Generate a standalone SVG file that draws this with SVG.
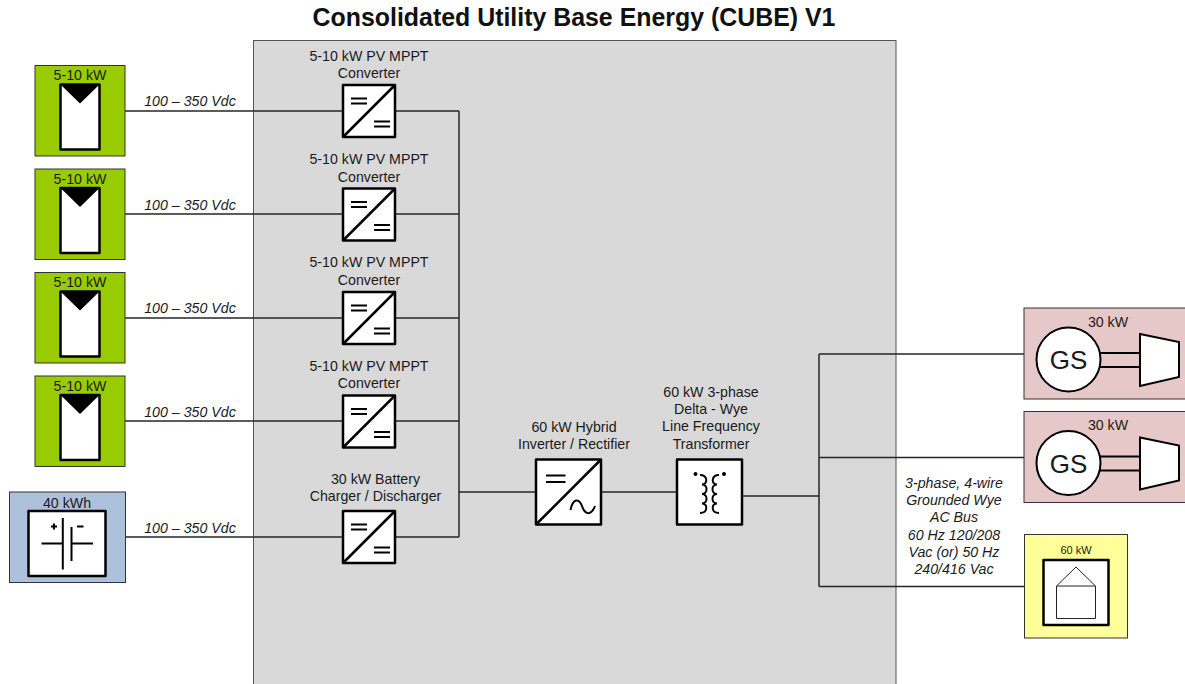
<svg xmlns="http://www.w3.org/2000/svg" width="1185" height="684" viewBox="0 0 1185 684">
<style>
text{font-family:"Liberation Sans",Arial,sans-serif;font-size:14.200px;fill:#1a1a1a;text-anchor:middle}
.t{font-size:24.900px;font-weight:bold;fill:#111}
.i{font-style:italic}
.g{font-size:26px}
.m{font-size:11px}
.w{fill:none;stroke:#262626;stroke-width:1.500}
.b{stroke:#333;stroke-width:1}
.k{fill:#fff;stroke:#000;stroke-width:2.500;stroke-linejoin:round}
.l{fill:none;stroke:#000;stroke-width:2.500}
.s{fill:none;stroke:#000;stroke-width:2}
</style>
<defs>
<g id="pv">
<rect class="b" x="35" y="65.500" width="90" height="90.500" fill="#99cc00"/>
<rect class="k" x="60.500" y="84.500" width="39" height="65"/>
<path d="M60.500 84.500H99.500L80 103.500Z" fill="#000"/>
<text x="80" y="80">5-10 kW</text>
</g>
<g id="conv">
<rect class="k" x="343" y="85" width="52" height="52"/>
<path class="l" d="M343 137L395 85"/>
<path class="s" d="M351 98.500H367M351 103.500H367M374 121.500H390M374 126.500H390"/>
</g>
<g id="gen">
<path class="s" d="M1100 353H1140M1100 367H1140"/>
<path class="s" d="M1140 334V386L1179 377V342Z" style="fill:#fff"/>
<circle class="s" cx="1068.500" cy="359.500" r="32" style="fill:#fff"/>
</g>
</defs>
<text class="t" x="574" y="26">Consolidated Utility Base Energy (CUBE) V1</text>
<rect id="cube" x="253.500" y="40.500" width="642.500" height="650" fill="#d9d9d9" stroke="#555" stroke-width="1"/>
<g id="connectors">
<path class="w" d="M125 111H343M395 111H459M125 214H343M395 214H459M125 318H343M395 318H459M125 421H343M395 421H459M125.500 537H343M395 537H459M459 111V537M459 492H536M601 492H677M742 496H819M819 354V586.500M819 354H1024M819 457.500H1024M819 586.500H1024"/>
</g>
<g id="labels">
<text class="i" x="190" y="106">100 – 350 Vdc</text>
<text class="i" x="190" y="210">100 – 350 Vdc</text>
<text class="i" x="190" y="313">100 – 350 Vdc</text>
<text class="i" x="190" y="417">100 – 350 Vdc</text>
<text class="i" x="190" y="533">100 – 350 Vdc</text>
</g>
<g id="pv1"><use href="#pv"/></g>
<g id="pv2"><use href="#pv" y="103.500"/></g>
<g id="pv3"><use href="#pv" y="207"/></g>
<g id="pv4"><use href="#pv" y="310.500"/></g>
<g id="battery">
<rect class="b" x="9.500" y="492" width="116" height="90.500" fill="#adc1dc"/>
<rect class="k" x="28.500" y="511" width="77" height="65"/>
<path class="s" d="M41.500 543.500H63M62.800 518V569.500M71.500 527V561M71.500 543.500H93"/>
<path class="s" d="M51 526.500H57M54 523.500V529.500M77 526.500H83.500"/>
<text x="67" y="508">40 kWh</text>
</g>
<g id="conv1"><text x="369" y="61">5-10 kW PV MPPT</text><text x="369" y="78">Converter</text><use href="#conv"/></g>
<g id="conv2"><text x="369" y="164">5-10 kW PV MPPT</text><text x="369" y="182">Converter</text><use href="#conv" y="103.500"/></g>
<g id="conv3"><text x="369" y="267">5-10 kW PV MPPT</text><text x="369" y="285">Converter</text><use href="#conv" y="207"/></g>
<g id="conv4"><text x="369" y="371">5-10 kW PV MPPT</text><text x="369" y="388">Converter</text><use href="#conv" y="310.500"/></g>
<g id="conv5"><text x="375.500" y="484">30 kW Battery</text><text x="375.500" y="501">Charger / Discharger</text><use href="#conv" y="426"/></g>
<g id="inverter">
<text x="574" y="432">60 kW Hybrid</text><text x="574" y="449">Inverter / Rectifier</text>
<rect class="k" x="536" y="459.500" width="65" height="65"/>
<path class="l" d="M536 524.500L601 459.500"/>
<path class="s" d="M546 475.500H565.500M546 482H565.500M570.500 510C573 498 579 498 582 506C585 515 591 516 595 506"/>
</g>
<g id="transformer">
<text x="711" y="397">60 kW 3-phase</text><text x="711" y="414">Delta - Wye</text><text x="711" y="431">Line Frequency</text><text x="711" y="449">Transformer</text>
<rect class="k" x="677" y="459.500" width="65" height="65"/>
<circle cx="695.500" cy="474" r="2" fill="#000"/><circle cx="724" cy="474" r="2" fill="#000"/>
<path class="s" d="M700 475C708 475 708 484.500 702 484.500C708 484.500 708 494 702 494C708 494 708 503.500 702 503.500C708 503.500 708 513 700 513M719 475C711 475 711 484.500 717 484.500C711 484.500 711 494 717 494C711 494 711 503.500 717 503.500C711 503.500 711 513 719 513"/>
</g>
<g id="gen1">
<rect class="b" x="1024" y="308" width="162" height="91" fill="#e6c8c8"/>
<use href="#gen"/>
<text x="1108" y="327">30 kW</text>
<text class="g" x="1068.500" y="369">GS</text>
</g>
<g id="gen2">
<rect class="b" x="1024" y="411.500" width="162" height="91" fill="#e6c8c8"/>
<use href="#gen" y="103.500"/>
<text x="1108" y="430">30 kW</text>
<text class="g" x="1068.500" y="472.500">GS</text>
</g>
<g id="load">
<rect class="b" x="1024.500" y="534.500" width="103" height="103.500" fill="#ffff99"/>
<rect class="k" x="1043.500" y="560" width="65" height="65"/>
<path d="M1056.500 586L1076 567L1095.500 586V618.500H1056.500Z" fill="#fff" stroke="#222" stroke-width="1"/>
<path d="M1056.500 586H1095.500" stroke="#222" stroke-width="1"/>
<text class="m" x="1076" y="554">60 kW</text>
</g>
<g id="bus-label">
<text class="i" x="954" y="488">3-phase, 4-wire</text>
<text class="i" x="954" y="505">Grounded Wye</text>
<text class="i" x="954" y="522">AC Bus</text>
<text class="i" x="954" y="540">60 Hz 120/208</text>
<text class="i" x="954" y="557">Vac (or) 50 Hz</text>
<text class="i" x="954" y="574">240/416 Vac</text>
</g>
</svg>
